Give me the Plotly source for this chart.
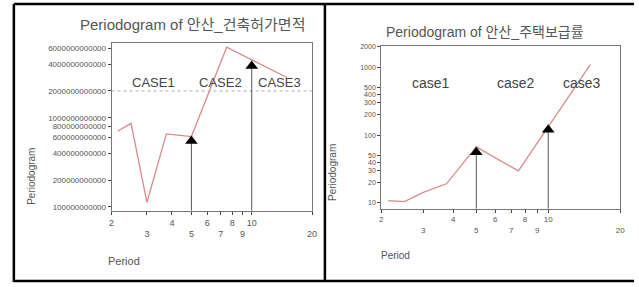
import plotly.graph_objects as go
import math

# ---------------- data ----------------
periods = [15/7, 2.5, 3, 3.75, 5, 7.5, 15]
left_values = [7.05e11, 8.65e11, 1.12e11, 6.6e11, 6.15e11, 6.2e12, 2.83e12]
right_values = [10.8, 10.4, 14.3, 19.1, 67, 29.6, 1100]

left_arrow_periods = [5, 10]
left_arrow_values = [5.5e11, 3.8e12]
right_arrow_periods = [5, 10]
right_arrow_values = [56, 120]

left_ref_level = 2e12

left_title = "Periodogram of 안산_건축허가면적"
right_title = "Periodogram of 안산_주택보급률"
left_cases = ["CASE1", "CASE2", "CASE3"]
right_cases = ["case1", "case2", "case3"]

x_tickvals = [2, 3, 4, 5, 6, 7, 8, 9, 10, 20]
x_ticktext = ["2", "<br>3", "4", "<br>5", "6", "<br>7", "8", "<br>9", "10", "<br>20"]

left_y_tickvals = [1e11, 2e11, 4e11, 6e11, 8e11, 1e12, 2e12, 4e12, 6e12]
left_y_ticktext = ["100000000000", "200000000000", "400000000000", "600000000000",
                   "800000000000", "1000000000000", "2000000000000", "4000000000000",
                   "6000000000000"]
right_y_tickvals = [10, 20, 30, 40, 50, 100, 200, 300, 400, 500, 1000, 2000]
right_y_ticktext = [str(v) for v in right_y_tickvals]

# ---------------- layout constants ----------------
W, H = 639, 287
FONT = "Liberation Sans, Arial, Noto Sans CJK KR, sans-serif"
TXT = "#555555"
LINE = "#d98a8a"
AX = "#777777"

def px(x):
    return x / W

def py(y):
    return 1 - y / H

left_yrange = [10.956, 12.844]
right_yrange = [0.912, 3.322]
xrange_log = [math.log10(2), math.log10(20)]

fig = go.Figure()

# left chart
fig.add_trace(go.Scatter(x=[2, 20], y=[left_ref_level, left_ref_level], mode="lines",
                         line=dict(color="#aaaaaa", width=1, dash="dot"),
                         xaxis="x", yaxis="y", hoverinfo="skip"))
fig.add_trace(go.Scatter(x=periods, y=left_values, mode="lines",
                         line=dict(color=LINE, width=1.3), xaxis="x", yaxis="y"))
lb = 10 ** left_yrange[0]
stem_x, stem_y = [], []
for p, v in zip(left_arrow_periods, left_arrow_values):
    stem_x += [p, p, None]
    stem_y += [lb, v, None]
fig.add_trace(go.Scatter(x=stem_x, y=stem_y, mode="lines",
                         line=dict(color="#555555", width=1), xaxis="x", yaxis="y"))
fig.add_trace(go.Scatter(x=left_arrow_periods, y=left_arrow_values, mode="markers",
                         marker=dict(symbol="triangle-up", size=11, color="black"),
                         xaxis="x", yaxis="y"))

# right chart
fig.add_trace(go.Scatter(x=periods, y=right_values, mode="lines",
                         line=dict(color=LINE, width=1.3), xaxis="x2", yaxis="y2"))
rb = 10 ** right_yrange[0]
stem_x, stem_y = [], []
for p, v in zip(right_arrow_periods, right_arrow_values):
    stem_x += [p, p, None]
    stem_y += [rb, v, None]
fig.add_trace(go.Scatter(x=stem_x, y=stem_y, mode="lines",
                         line=dict(color="#555555", width=1), xaxis="x2", yaxis="y2"))
fig.add_trace(go.Scatter(x=right_arrow_periods, y=right_arrow_values, mode="markers",
                         marker=dict(symbol="triangle-up", size=11, color="black"),
                         xaxis="x2", yaxis="y2"))

axis_common = dict(type="log", showgrid=False, zeroline=False, showline=True,
                   linecolor=AX, linewidth=1, mirror=True, ticks="outside",
                   ticklen=3, tickcolor="#444444", tickwidth=1, tickangle=0)

fig.update_layout(
    width=W, height=H, showlegend=False,
    margin=dict(l=0, r=0, t=0, b=0),
    paper_bgcolor="white", plot_bgcolor="white",
    font=dict(family=FONT, color=TXT),
    xaxis=dict(axis_common, domain=[px(110), px(313)], range=xrange_log, anchor="y",
               tickvals=x_tickvals, ticktext=x_ticktext, tickfont=dict(size=9, color=TXT)),
    yaxis=dict(axis_common, domain=[py(211), py(41)], range=left_yrange, anchor="x",
               tickvals=left_y_tickvals, ticktext=left_y_ticktext,
               tickfont=dict(size=8, color=TXT)),
    xaxis2=dict(axis_common, domain=[px(383), px(625)], range=xrange_log, anchor="y2",
                tickvals=x_tickvals, ticktext=x_ticktext, tickfont=dict(size=8, color=TXT)),
    yaxis2=dict(axis_common, domain=[py(209), py(44)], range=right_yrange, anchor="x2",
                tickvals=right_y_tickvals, ticktext=right_y_ticktext,
                tickfont=dict(size=7, color=TXT)),
)

ann = []
ann.append(dict(text=left_title, x=px(192), y=py(23), font=dict(size=15, color=TXT)))
ann.append(dict(text=right_title, x=px(488), y=py(30), font=dict(size=14, color=TXT)))
for t, xx in zip(left_cases, [152, 220, 280]):
    ann.append(dict(text=t, x=px(xx), y=py(81), font=dict(size=13, color="#444444")))
for t, xx in zip(right_cases, [433, 519, 586]):
    ann.append(dict(text=t, x=px(xx), y=py(82), font=dict(size=14, color="#444444")))
ann.append(dict(text="Periodogram", x=px(29), y=py(176), textangle=-90,
                font=dict(size=10, color=TXT)))
ann.append(dict(text="Periodogram", x=px(333), y=py(172), textangle=-90,
                font=dict(size=10, color=TXT)))
ann.append(dict(text="Period", x=px(123), y=py(262), font=dict(size=11, color=TXT)))
ann.append(dict(text="Period", x=px(397), y=py(256), font=dict(size=10, color=TXT)))
for a in ann:
    a.update(xref="paper", yref="paper", showarrow=False, xanchor="center", yanchor="middle")
fig.update_layout(annotations=ann)

# outer frame of the table
shapes = [
    dict(type="line", x0=px(11), x1=px(11), y0=py(2), y1=py(283)),
    dict(type="line", x0=px(11), x1=1, y0=py(2), y1=py(2)),
    dict(type="line", x0=px(11), x1=1, y0=py(282), y1=py(282)),
    dict(type="line", x0=px(326), x1=px(326), y0=py(2), y1=py(283)),
]
for s in shapes:
    s.update(xref="paper", yref="paper", line=dict(color="black", width=2.5))
fig.update_layout(shapes=shapes)

fig.write_html("out.html", config={"displayModeBar": False},
               post_script="document.body.style.margin='0';document.body.style.overflow='hidden';")
